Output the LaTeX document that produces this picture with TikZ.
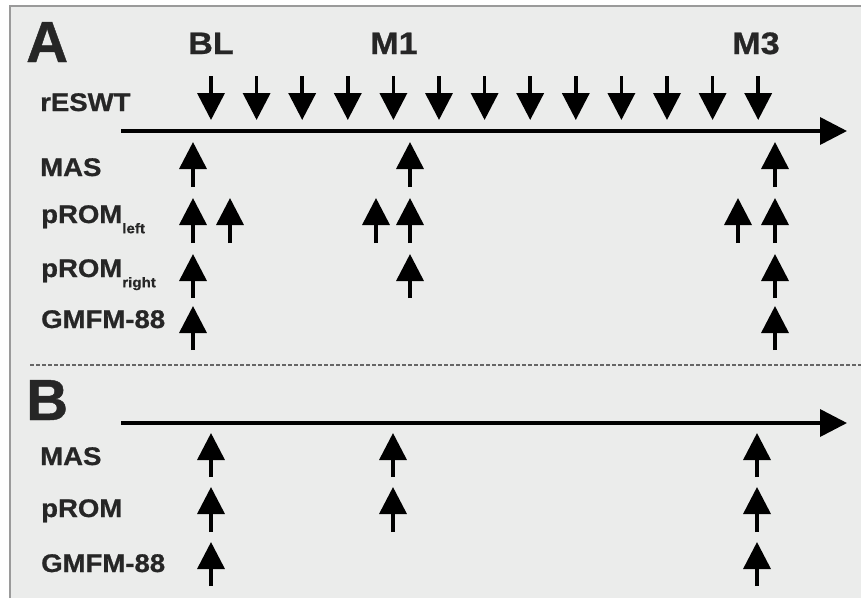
\documentclass[tikz,border=0pt]{standalone}
\usepackage{fontspec}
\setmainfont{Liberation Sans}[BoldFeatures={FakeBold=0.8}]
\usetikzlibrary{arrows.meta}
\definecolor{bg}{HTML}{EBECEB}
\definecolor{frame}{HTML}{9A9A9A}
\definecolor{txt}{HTML}{262626}
\tikzset{
  lbl/.style={anchor=base west, inner sep=0pt, text=txt, font=\bfseries\fontsize{25.5}{25.5}\selectfont, xscale=1.08},
  tlbl/.style={anchor=base, inner sep=0pt, text=txt, font=\bfseries\fontsize{31}{31}\selectfont, xscale=1.1},
  big/.style={anchor=base west, inner sep=0pt, text=txt, font=\bfseries\fontsize{58}{58}\selectfont},
  evt/.style={line width=3.6pt, -{Triangle[width=27pt,length=27pt]}, black},
  axis/.style={line width=3.6pt, -{Triangle[width=27pt,length=27pt]}, black},
}
\newcommand{\subtxt}[1]{\raisebox{-0.4em}{\fontsize{14}{14}\selectfont #1}}
\begin{document}
\begin{tikzpicture}[x=1pt,y=-1pt]
\useasboundingbox (0,0) rectangle (861,598);
\fill[white] (0,0) rectangle (861,598);
\fill[bg] (9,5) rectangle (861,598);
\draw[frame, line width=2pt] (9.5,598) -- (9.5,5.5) -- (861,5.5);
% panel A
\node[big] (lA) at (26,62) {A};
\node[tlbl] (bl) at (211,54) {BL};
\node[tlbl] (m1) at (394,54) {M1};
\node[tlbl] (m3) at (756,54) {M3};
\node[lbl] (resw) at (40,111) {rESWT};
\node[lbl] (masA) at (40,176) {MAS};
\node[lbl] (pl) at (41,223) {pROM\subtxt{left}};
\node[lbl] (pr) at (41,277) {pROM\subtxt{right}};
\node[lbl] (gA) at (41,328) {GMFM-88};
\coordinate (axA0) at (121,131);
\coordinate (axA1) at (847,131);
\draw[axis] (axA0) -- (axA1);
\foreach \i in {0,...,12}{
  \draw[evt] ({211+45.6*\i},76) -- ({211+45.6*\i},120);
}
\foreach \x in {193,410,775}{ \draw[evt] (\x,187) -- (\x,142); }
\foreach \x in {193,230,376,410,738,775}{ \draw[evt] (\x,243) -- (\x,198); }
\foreach \x in {193,410,775}{ \draw[evt] (\x,298) -- (\x,254); }
\foreach \x in {193,775}{ \draw[evt] (\x,350) -- (\x,306); }
% separator
\draw[black!60, line width=1.5pt, dash pattern=on 4pt off 2pt] (30,365) -- (861,365);
% panel B
\node[big] (lB) at (26,420) {B};
\node[lbl] (masB) at (40,465) {MAS};
\node[lbl] (pB) at (41,517) {pROM};
\node[lbl] (gB) at (41,572) {GMFM-88};
\coordinate (axB0) at (121,423);
\coordinate (axB1) at (847,423);
\draw[axis] (axB0) -- (axB1);
\foreach \x in {211,393,757}{ \draw[evt] (\x,477) -- (\x,433); }
\foreach \x in {211,393,757}{ \draw[evt] (\x,532) -- (\x,487); }
\foreach \x in {211,757}{ \draw[evt] (\x,586) -- (\x,542); }
\end{tikzpicture}
\end{document}
